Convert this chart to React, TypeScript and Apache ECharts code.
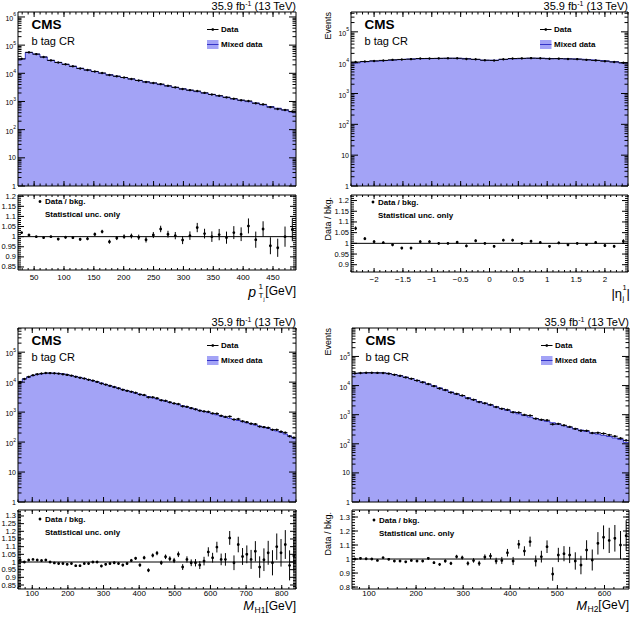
import { useEffect, useRef } from "react";
import * as echarts from "echarts";

// ---- leading-jet pT (GeV) ----
const PT_LOW = 23;
const PT_WIDTH = 12.25;
const PT_MIXED = [32000, 55000, 48000, 38000, 28800, 24500, 20900, 17800, 15100, 13200, 11500, 10000, 8900, 7900, 7100, 6300, 5600, 5000, 4500, 3980, 3550, 3160, 2820, 2510, 2240, 1990, 1780, 1580, 1410, 1230, 1100, 990, 880, 760, 660, 575, 500, 425];
const PT_RATIO = [1.02, 1.008, 1.0, 0.995, 1.0, 0.988, 0.997, 0.995, 0.987, 0.99, 1.012, 1.025, 0.975, 0.993, 1.0, 1.003, 0.997, 0.985, 1.008, 1.038, 1.012, 1.005, 0.983, 1.005, 1.045, 1.015, 1.0, 1.01, 0.995, 1.02, 1.012, 1.053, 0.985, 1.038, 0.955, 0.945, 1.0, 1.035];
const PT_ERR = [0.004, 0.004, 0.004, 0.005, 0.005, 0.006, 0.006, 0.007, 0.007, 0.008, 0.008, 0.009, 0.01, 0.01, 0.011, 0.012, 0.013, 0.014, 0.015, 0.016, 0.017, 0.018, 0.02, 0.021, 0.023, 0.024, 0.026, 0.028, 0.03, 0.032, 0.034, 0.037, 0.04, 0.038, 0.042, 0.045, 0.05, 0.058];

// ---- leading-jet eta ----
const ETA_LOW = -2.4;
const ETA_WIDTH = 0.16;
const ETA_MIXED = [9800, 10700, 11300, 11800, 12400, 13000, 13300, 13500, 13600, 13800, 13900, 13800, 13400, 12700, 12000, 12000, 12700, 13400, 13800, 13900, 13800, 13600, 13500, 13300, 13000, 12400, 11800, 11300, 10700, 9800];
const ETA_RATIO = [1.07, 1.022, 1.008, 1.003, 0.993, 0.978, 0.978, 1.008, 1.008, 1.0, 1.0, 1.005, 0.988, 1.012, 1.0, 0.986, 1.015, 1.015, 1.0, 1.01, 1.004, 0.986, 1.002, 0.993, 1.0, 0.994, 1.004, 0.99, 0.986, 1.01];
const ETA_ERR = [0.009, 0.007, 0.007, 0.006, 0.006, 0.006, 0.006, 0.006, 0.006, 0.006, 0.006, 0.006, 0.006, 0.006, 0.006, 0.006, 0.006, 0.006, 0.006, 0.006, 0.006, 0.006, 0.006, 0.006, 0.006, 0.006, 0.006, 0.007, 0.007, 0.009];

// ---- M_H1 (GeV) ----
const MH1_LOW = 60;
const MH1_WIDTH = 12;
const MH1_MIXED = [10000, 12800, 14800, 16600, 18200, 19200, 19900, 20000, 19800, 19400, 18600, 17700, 16600, 15500, 14400, 13300, 12200, 11200, 10200, 9300, 8400, 7600, 6900, 6300, 5700, 5200, 4750, 4300, 3950, 3600, 3300, 3000, 2750, 2500, 2300, 2100, 1930, 1770, 1620, 1480, 1360, 1250, 1140, 1050, 960, 880, 810, 740, 680, 620, 570, 525, 480, 440, 405, 370, 340, 310, 285, 260, 235, 210, 185, 160, 135];
const MH1_RATIO = [1.013, 1.0, 1.013, 1.017, 1.013, 1.01, 1.013, 1.0, 0.994, 0.99, 0.99, 0.985, 0.99, 0.976, 0.976, 0.99, 0.99, 1.0, 1.0, 0.974, 0.985, 0.99, 0.995, 0.99, 0.98, 0.99, 1.01, 1.024, 0.98, 1.028, 0.946, 1.043, 1.058, 0.995, 1.034, 1.021, 1.01, 1.05, 0.967, 1.017, 0.995, 0.995, 0.98, 1.006, 1.066, 1.028, 1.097, 1.017, 1.017, 1.157, 0.995, 1.114, 1.036, 1.05, 1.017, 1.07, 0.967, 1.015, 1.06, 0.995, 1.1, 1.06, 1.114, 0.978, 1.04];
const MH1_ERR = [0.005, 0.004, 0.004, 0.004, 0.004, 0.004, 0.004, 0.004, 0.004, 0.004, 0.004, 0.005, 0.005, 0.005, 0.005, 0.005, 0.006, 0.006, 0.006, 0.007, 0.007, 0.007, 0.008, 0.008, 0.009, 0.009, 0.01, 0.01, 0.011, 0.012, 0.012, 0.013, 0.014, 0.014, 0.015, 0.016, 0.017, 0.018, 0.019, 0.02, 0.022, 0.024, 0.026, 0.028, 0.03, 0.032, 0.035, 0.038, 0.041, 0.045, 0.048, 0.051, 0.055, 0.058, 0.062, 0.066, 0.07, 0.074, 0.078, 0.082, 0.086, 0.09, 0.094, 0.098, 0.1];

// ---- M_H2 (GeV) ----
const MH2_LOW = 64;
const MH2_WIDTH = 12;
const MH2_MIXED = [26300, 26900, 27500, 27500, 27500, 26900, 25700, 24000, 21900, 19500, 17400, 15100, 13200, 11200, 9800, 8300, 7100, 6000, 5100, 4500, 3800, 3300, 2820, 2450, 2140, 1860, 1620, 1410, 1230, 1070, 930, 830, 740, 660, 590, 525, 470, 415, 370, 330, 295, 265, 235, 215, 195, 178, 158, 140, 112];
const MH2_RATIO = [1.0, 1.005, 1.002, 1.0, 0.99, 1.01, 0.998, 0.986, 0.986, 0.98, 0.99, 0.986, 0.986, 1.005, 0.974, 0.962, 0.986, 0.969, 1.017, 1.01, 0.969, 0.99, 0.969, 1.014, 1.021, 0.986, 0.99, 1.045, 0.986, 1.105, 1.057, 1.124, 0.986, 1.017, 1.088, 0.893, 1.029, 1.038, 1.029, 0.986, 0.957, 1.064, 0.993, 1.112, 1.155, 1.133, 1.148, 1.1, 1.167];
const MH2_ERR = [0.005, 0.005, 0.005, 0.005, 0.005, 0.005, 0.005, 0.006, 0.006, 0.006, 0.007, 0.007, 0.008, 0.008, 0.009, 0.01, 0.011, 0.012, 0.013, 0.014, 0.015, 0.016, 0.018, 0.019, 0.021, 0.023, 0.025, 0.027, 0.029, 0.031, 0.034, 0.036, 0.039, 0.042, 0.045, 0.048, 0.051, 0.054, 0.058, 0.062, 0.066, 0.07, 0.075, 0.08, 0.085, 0.09, 0.095, 0.1, 0.11];

const LUMI = "35.9 fb";
const LUMI_EXP = "-1";
const ENERGY = " (13 TeV)";
const CMS = "CMS";
const REGION = "b tag CR";
const LEG_DATA = "Data";
const LEG_MIXED = "Mixed data";
const LEG_RATIO = "Data / bkg.";
const LEG_STAT = "Statistical unc. only";

const FONT = "'Liberation Sans', Arial, Helvetica, sans-serif";
const FILL = "#a3a3f6";
const EDGE = "#3434c8";
const INK = "#000";

type Box = { left: number; top: number; width: number; height: number };
type Panel = {
  low: number;
  width: number;
  mixed: number[];
  ratio: number[];
  err: number[];
  xSplit: number;
  xMajor: number;
  xMinor: number;
  yMax: number;
  rRange: [number, number];
  rSplit: number;
  rMajor: number;
  rMinor: number;
  main: Box;
  sub: Box;
  legDy: number;
  labelGap: number;
  minusSign?: boolean;
};

const PANELS: Panel[] = [
  {
    low: PT_LOW, width: PT_WIDTH, mixed: PT_MIXED, ratio: PT_RATIO, err: PT_ERR,
    xSplit: 9, xMajor: 50, xMinor: 10, yMax: 1.5e6,
    rRange: [0.835, 1.206], rSplit: 7, rMajor: 0.05, rMinor: 0.01,
    main: { left: 18, top: 12, width: 278, height: 174 },
    sub: { left: 18, top: 195, width: 278, height: 75 },
    legDy: 6.5, labelGap: 3,
  },
  {
    low: ETA_LOW, width: ETA_WIDTH, mixed: ETA_MIXED, ratio: ETA_RATIO, err: ETA_ERR,
    xSplit: 10, xMajor: 0.5, xMinor: 0.1, yMax: 4.4e5,
    rRange: [0.866, 1.226], rSplit: 7, rMajor: 0.05, rMinor: 0.01,
    main: { left: 351, top: 12, width: 277, height: 174 },
    sub: { left: 351, top: 195, width: 277, height: 77 },
    legDy: 7, labelGap: 3, minusSign: true,
  },
  {
    low: MH1_LOW, width: MH1_WIDTH, mixed: MH1_MIXED, ratio: MH1_RATIO, err: MH1_ERR,
    xSplit: 8, xMajor: 100, xMinor: 20, yMax: 6.4e5,
    rRange: [0.824, 1.339], rSplit: 10, rMajor: 0.05, rMinor: 0.01,
    main: { left: 18, top: 328, width: 278, height: 174 },
    sub: { left: 18, top: 510, width: 278, height: 79 },
    legDy: 9, labelGap: 0.5,
  },
  {
    low: MH2_LOW, width: MH2_WIDTH, mixed: MH2_MIXED, ratio: MH2_RATIO, err: MH2_ERR,
    xSplit: 6, xMajor: 100, xMinor: 20, yMax: 9.5e5,
    rRange: [0.786, 1.35], rSplit: 6, rMajor: 0.1, rMinor: 0.02,
    main: { left: 352, top: 328, width: 277, height: 174 },
    sub: { left: 352, top: 510, width: 277, height: 79 },
    legDy: 10, labelGap: 0.5,
  },
];

// tick values on a linear axis
function steps(min: number, max: number, step: number): number[] {
  const out: number[] = [];
  const start = Math.ceil(min / step - 1e-9);
  for (let k = start; k * step <= max + 1e-9; k++) out.push(Math.round(k * step * 1e6) / 1e6);
  return out;
}

// major (decades) and minor (2..9) ticks on a log axis
function logTicks(max: number) {
  const major: number[] = [];
  const minor: number[] = [];
  for (let e = 0; Math.pow(10, e) <= max; e++) {
    for (let m = 1; m <= 9; m++) {
      const v = m * Math.pow(10, e);
      if (v > max) break;
      (m === 1 ? major : minor).push(v);
    }
  }
  return { major, minor };
}

type Ticks = { major: number[]; minor: number[] };

// box outline plus inward ticks on all four sides
function frameSeries(idx: number, xr: [number, number], yr: [number, number], xt: Ticks, yt: Ticks, len: { xM: number; xm: number; yM: number; ym: number }) {
  return {
    type: "custom",
    xAxisIndex: idx,
    yAxisIndex: idx,
    silent: true,
    z: 10,
    data: [[xr[0], yr[0]]],
    renderItem: (_p: any, api: any) => {
      const a = api.coord([xr[0], yr[0]]);
      const b = api.coord([xr[1], yr[1]]);
      const L = a[0], B = a[1], R = b[0], T = b[1];
      const kids: any[] = [];
      const seg = (x1: number, y1: number, x2: number, y2: number) =>
        kids.push({ type: "line", shape: { x1, y1, x2, y2 }, style: { stroke: INK, lineWidth: 1 } });
      xt.major.forEach((v) => { const x = api.coord([v, yr[0]])[0]; seg(x, B, x, B - len.xM); seg(x, T, x, T + len.xM); });
      xt.minor.forEach((v) => { const x = api.coord([v, yr[0]])[0]; seg(x, B, x, B - len.xm); seg(x, T, x, T + len.xm); });
      yt.major.forEach((v) => { const y = api.coord([xr[0], v])[1]; seg(L, y, L + len.yM, y); seg(R, y, R - len.yM, y); });
      yt.minor.forEach((v) => { const y = api.coord([xr[0], v])[1]; seg(L, y, L + len.ym, y); seg(R, y, R - len.ym, y); });
      kids.push({ type: "rect", shape: { x: L, y: T, width: R - L, height: B - T }, style: { fill: "none", stroke: INK, lineWidth: 1 } });
      return { type: "group", children: kids };
    },
  };
}

function logLabel(v: number): string {
  const l = Math.log10(v);
  const e = Math.round(l);
  if (Math.abs(l - e) > 1e-3) return "";
  if (e === 0) return "1";
  if (e === 1) return "10";
  return `{b|10}{e|${e}}`;
}

function text(x: number, y: number, s: string, size: number, extra: any = {}) {
  return {
    type: "text",
    x,
    y,
    silent: true,
    rotation: extra.rotation ?? 0,
    style: {
      text: s,
      fontSize: size,
      fontFamily: FONT,
      fontWeight: extra.weight ?? "normal",
      fontStyle: extra.italic ? "italic" : "normal",
      fill: INK,
      align: extra.align ?? "left",
      textAlign: extra.align ?? "left",
      verticalAlign: "middle",
      textVerticalAlign: "middle",
      rich: extra.rich,
    },
  };
}

function buildOption() {
  const grids: any[] = [];
  const xAxes: any[] = [];
  const yAxes: any[] = [];
  const series: any[] = [];
  const gfx: any[] = [];

  PANELS.forEach((p, i) => {
    const n = p.mixed.length;
    const xr: [number, number] = [p.low, p.low + n * p.width];
    const gm = 2 * i;
    const gr = 2 * i + 1;
    const xFmt = (v: number) => {
      const s = String(Math.round(v * 100) / 100);
      return p.minusSign ? s.replace("-", "\u2212") : s;
    };

    [p.main, p.sub].forEach((b) =>
      grids.push({ left: b.left, top: b.top, width: b.width, height: b.height, show: false, containLabel: false, outerBoundsMode: "none" })
    );

    const baseX = {
      type: "value",
      min: xr[0],
      max: xr[1],
      splitNumber: p.xSplit,
      axisLine: { show: false, onZero: false },
      axisTick: { show: false },
      splitLine: { show: false },
    };
    xAxes.push({ ...baseX, gridIndex: gm, axisLabel: { show: false } });
    xAxes.push({
      ...baseX,
      gridIndex: gr,
      axisLabel: { show: true, fontSize: 8, fontFamily: FONT, color: INK, margin: p.labelGap, showMinLabel: false, showMaxLabel: false, formatter: xFmt },
    });

    yAxes.push({
      type: "log",
      logBase: 10,
      gridIndex: gm,
      min: 1,
      max: p.yMax,
      axisLine: { show: false, onZero: false },
      axisTick: { show: false },
      splitLine: { show: false },
      axisLabel: {
        show: true,
        margin: 2,
        fontSize: 7,
        fontFamily: FONT,
        color: INK,
        showMaxLabel: false,
        formatter: logLabel,
        rich: {
          b: { fontSize: 7, fontFamily: FONT, color: INK, lineHeight: 10, verticalAlign: "bottom" },
          e: { fontSize: 5, fontFamily: FONT, color: INK, lineHeight: 10, verticalAlign: "top" },
        },
      },
    });
    yAxes.push({
      type: "value",
      gridIndex: gr,
      min: p.rRange[0],
      max: p.rRange[1],
      splitNumber: p.rSplit,
      axisLine: { show: false, onZero: false },
      axisTick: { show: false },
      splitLine: { show: false },
      axisLabel: { show: true, margin: 2, fontSize: 7.5, fontFamily: FONT, color: INK, showMinLabel: false, showMaxLabel: false },
    });

    // background model: stepped, filled histogram
    const stepData = p.mixed.map((v, k) => [p.low + k * p.width, v]);
    stepData.push([xr[1], p.mixed[n - 1]]);
    series.push({
      type: "line",
      xAxisIndex: gm,
      yAxisIndex: gm,
      data: stepData,
      step: "end",
      symbol: "none",
      silent: true,
      z: 2,
      lineStyle: { color: EDGE, width: 1 },
      areaStyle: { color: FILL, opacity: 1, origin: "start" },
    });

    // observed data: marker with bin-width bar
    series.push({
      type: "custom",
      xAxisIndex: gm,
      yAxisIndex: gm,
      silent: true,
      z: 5,
      data: p.mixed.map((v, k) => {
        const lo = p.low + k * p.width;
        return [lo + p.width / 2, v * p.ratio[k], lo, lo + p.width];
      }),
      renderItem: (_pp: any, api: any) => {
        const y = api.value(1);
        const a = api.coord([api.value(2), y]);
        const b = api.coord([api.value(3), y]);
        const c = api.coord([api.value(0), y]);
        return {
          type: "group",
          children: [
            { type: "line", shape: { x1: a[0], y1: a[1], x2: b[0], y2: b[1] }, style: { stroke: INK, lineWidth: 1 } },
            { type: "circle", shape: { cx: c[0], cy: c[1], r: 1.2 }, style: { fill: INK } },
          ],
        };
      },
    });

    // unity reference in the ratio pad
    series.push({
      type: "line",
      xAxisIndex: gr,
      yAxisIndex: gr,
      data: [[xr[0], 1], [xr[1], 1]],
      symbol: "none",
      silent: true,
      z: 3,
      lineStyle: { color: INK, width: 1 },
    });

    // data / background with statistical errors
    series.push({
      type: "custom",
      xAxisIndex: gr,
      yAxisIndex: gr,
      silent: true,
      z: 5,
      data: p.ratio.map((r, k) => [p.low + (k + 0.5) * p.width, r, p.err[k]]),
      renderItem: (_pp: any, api: any) => {
        const x = api.value(0);
        const r = api.value(1);
        const e = api.value(2);
        const lo = api.coord([x, r - e]);
        const hi = api.coord([x, r + e]);
        const c = api.coord([x, r]);
        return {
          type: "group",
          children: [
            { type: "line", shape: { x1: lo[0], y1: lo[1], x2: hi[0], y2: hi[1] }, style: { stroke: INK, lineWidth: 1 } },
            { type: "circle", shape: { cx: c[0], cy: c[1], r: 1.4 }, style: { fill: INK } },
          ],
        };
      },
    });

    const xt = { major: steps(xr[0], xr[1], p.xMajor), minor: steps(xr[0], xr[1], p.xMinor) };
    series.push(frameSeries(gm, xr, [1, p.yMax], xt, logTicks(p.yMax), { xM: 5, xm: 2.5, yM: 7, ym: 3.5 }));
    series.push(
      frameSeries(gr, xr, p.rRange, xt, { major: steps(p.rRange[0], p.rRange[1], p.rMajor), minor: steps(p.rRange[0], p.rRange[1], p.rMinor) }, { xM: 4, xm: 2, yM: 6, ym: 3 })
    );

    // annotations
    const m = p.main;
    const R = m.left + m.width;
    gfx.push(
      text(R, m.top - 6.5, `{a|${LUMI}}{s|${LUMI_EXP}}{a|${ENERGY}}`, 11, {
        align: "right",
        rich: {
          a: { fontSize: 11, fontFamily: FONT, fill: INK, lineHeight: 12, verticalAlign: "bottom" },
          s: { fontSize: 7, fontFamily: FONT, fill: INK, lineHeight: 12, verticalAlign: "top" },
        },
      })
    );
    gfx.push(text(m.left + 13.5, m.top + 12.5, CMS, 13.5, { weight: "bold" }));
    gfx.push(text(m.left + 13.5, m.top + 28.5, REGION, 11));
    // legend
    const lx = m.left + 189;
    gfx.push({ type: "line", silent: true, shape: { x1: lx, y1: m.top + 17.5, x2: lx + 11.5, y2: m.top + 17.5 }, style: { stroke: INK, lineWidth: 1 } });
    gfx.push({ type: "circle", silent: true, shape: { cx: lx + 5.75, cy: m.top + 17.5, r: 1.3 }, style: { fill: INK } });
    gfx.push(text(lx + 14, m.top + 17.5, LEG_DATA, 8, { weight: "bold" }));
    gfx.push({ type: "rect", silent: true, shape: { x: lx, y: m.top + 28, width: 11.5, height: 9 }, style: { fill: FILL, stroke: "none" } });
    gfx.push({ type: "line", silent: true, shape: { x1: lx, y1: m.top + 32.5, x2: lx + 11.5, y2: m.top + 32.5 }, style: { stroke: EDGE, lineWidth: 1 } });
    gfx.push(text(lx + 14, m.top + 32.5, LEG_MIXED, 8, { weight: "bold" }));
    // ratio legend
    const s = p.sub;
    gfx.push({ type: "circle", silent: true, shape: { cx: s.left + 22, cy: s.top + p.legDy, r: 1.4 }, style: { fill: INK } });
    gfx.push(text(s.left + 27, s.top + p.legDy, LEG_RATIO, 8, { weight: "bold" }));
    gfx.push(text(s.left + 27, s.top + p.legDy + 13, LEG_STAT, 8, { weight: "bold" }));
  });

  // axis titles
  const it = { italic: true };
  // p_T^1
  gfx.push(text(296, 291, "[GeV]", 12, { align: "right" }));
  gfx.push(text(256, 292, "p", 14, { ...it, align: "right" }));
  gfx.push(text(258.5, 286.5, "1", 8));
  gfx.push(text(258.5, 295.5, "T", 8));
  gfx.push(text(263.5, 298.5, "j", 5));
  // |eta_j^1|
  gfx.push(text(622, 293, "|\u03b7", 13, { align: "right" }));
  gfx.push(text(622.5, 287.5, "1", 7.5));
  gfx.push(text(622.5, 298.5, "j", 7.5));
  gfx.push(text(626.5, 293, "|", 13));
  // M_H1
  gfx.push(text(296, 605.5, "[GeV]", 12, { align: "right" }));
  gfx.push(text(254, 605.5, "M", 13, { ...it, align: "right" }));
  gfx.push(text(254.5, 609.5, "H1", 8.5));
  // M_H2
  gfx.push(text(629, 605, "[GeV]", 12, { align: "right" }));
  gfx.push(text(587, 605, "M", 13, { ...it, align: "right" }));
  gfx.push(text(587.5, 609, "H2", 8.5));
  // vertical titles of the right-hand pads
  gfx.push(text(328, 12, "Events", 9, { align: "right", rotation: Math.PI / 2 }));
  gfx.push(text(328, 328, "Events", 9, { align: "right", rotation: Math.PI / 2 }));
  gfx.push(text(328, 197, "Data / bkg.", 9, { align: "right", rotation: Math.PI / 2 }));
  gfx.push(text(328, 512, "Data / bkg.", 9, { align: "right", rotation: Math.PI / 2 }));

  return {
    animation: false,
    backgroundColor: "#fff",
    grid: grids,
    xAxis: xAxes,
    yAxis: yAxes,
    series,
    graphic: { elements: gfx },
  };
}

export default function App() {
  const ref = useRef<HTMLDivElement>(null);
  useEffect(() => {
    document.body.style.margin = "0";
    if (!ref.current) return;
    const chart = echarts.init(ref.current, undefined, { renderer: "svg" });
    chart.setOption(buildOption() as any);
    return () => chart.dispose();
  }, []);
  return <div ref={ref} style={{ width: 632, height: 622 }} />;
}
